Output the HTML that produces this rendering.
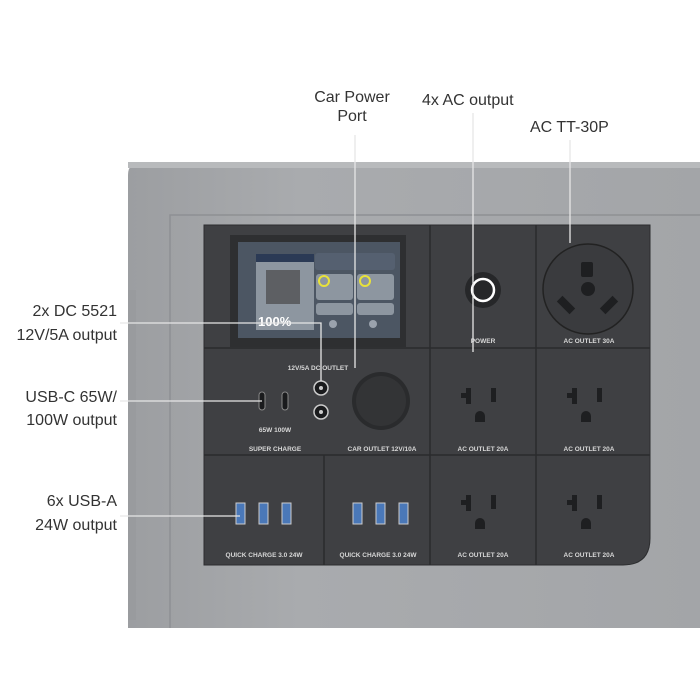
<!DOCTYPE html>
<html><head><meta charset="utf-8"><style>
html,body{margin:0;padding:0;background:#fff;width:700px;height:700px;overflow:hidden}
svg{display:block}
</style></head><body>
<svg width="700" height="700" viewBox="0 0 700 700" xmlns="http://www.w3.org/2000/svg" font-family="Liberation Sans, sans-serif">
<defs>
<linearGradient id="body" x1="0" y1="0" x2="1" y2="0">
<stop offset="0" stop-color="#9c9ea1"/><stop offset="0.3" stop-color="#a9abae"/><stop offset="1" stop-color="#a3a5a8"/>
</linearGradient>
</defs>
<rect width="700" height="700" fill="#fff"/>
<!-- body -->
<path d="M128 175 Q128 162 142 162 L700 162 L700 628 L128 628 Z" fill="url(#body)"/>
<rect x="128" y="162" width="572" height="6" fill="#b8babc"/>
<path d="M170 628 L170 215 L700 215" fill="none" stroke="#8e9093" stroke-width="1.5"/>
<rect x="128" y="290" width="8" height="330" fill="#999b9e"/>
<!-- panel -->
<path d="M204 225 L650 225 L650 538 Q650 565 623 565 L204 565 Z" fill="#3f4043" stroke="#2c2d2f" stroke-width="1"/>
<g stroke="#2a2b2d" stroke-width="1.5">
<line x1="204" y1="348" x2="650" y2="348"/>
<line x1="204" y1="455" x2="650" y2="455"/>
<line x1="430" y1="225" x2="430" y2="565"/>
<line x1="536" y1="225" x2="536" y2="565"/>
<line x1="324" y1="455" x2="324" y2="565"/>
</g>
<!-- display -->
<rect x="230" y="235" width="176" height="112" fill="#2e2f31"/>
<rect x="238" y="242" width="162" height="96" fill="#4c5663"/>
<rect x="256" y="254" width="58" height="76" fill="#8d96a0"/>
<rect x="256" y="254" width="58" height="8" fill="#2b3a55"/>
<rect x="266" y="270" width="34" height="34" fill="#5d5f63"/>
<text x="258" y="326" font-size="13" font-weight="bold" fill="#fff">100%</text>
<rect x="315" y="253" width="80" height="17" rx="3" fill="#556070"/>
<rect x="316" y="274" width="37" height="26" rx="3" fill="#8d96a0"/>
<rect x="357" y="274" width="37" height="26" rx="3" fill="#8d96a0"/>
<circle cx="324" cy="281" r="5" fill="none" stroke="#e8e23a" stroke-width="2"/>
<circle cx="365" cy="281" r="5" fill="none" stroke="#e8e23a" stroke-width="2"/>
<rect x="316" y="303" width="37" height="12" rx="3" fill="#8d96a0"/>
<rect x="357" y="303" width="37" height="12" rx="3" fill="#8d96a0"/>
<circle cx="333" cy="324" r="4" fill="#9aa2ad"/><circle cx="373" cy="324" r="4" fill="#9aa2ad"/>
<!-- power -->
<circle cx="483" cy="290" r="18" fill="#262729"/>
<circle cx="483" cy="290" r="11" fill="none" stroke="#fff" stroke-width="2.5"/>
<!-- TT-30 -->
<circle cx="588" cy="289" r="45" fill="#3a3b3e" stroke="#222" stroke-width="1.5"/>
<rect x="581" y="262" width="12" height="15" rx="2" fill="#1e1f21"/>
<circle cx="588" cy="289" r="7" fill="#1e1f21"/>
<rect x="562" y="296" width="8" height="18" fill="#1e1f21" transform="rotate(-45 566 305)"/>
<rect x="605" y="296" width="8" height="18" fill="#1e1f21" transform="rotate(45 609 305)"/>
<!-- AC 20A outlets -->
<g fill="#1e1f21">
<g id="o"><rect x="466" y="388" width="5" height="16"/><rect x="461" y="393" width="8" height="5"/><rect x="491" y="388" width="5" height="14"/><path d="M475 422 v-6 a5 5 0 0 1 10 0 v6 z"/></g>
<use href="#o" x="106"/><use href="#o" y="107"/><use href="#o" x="106" y="107"/>
</g>
<!-- USB-C -->
<rect x="259" y="392" width="6" height="18" rx="3" fill="#1a1b1d" stroke="#888" stroke-width="1"/>
<rect x="282" y="392" width="6" height="18" rx="3" fill="#1a1b1d" stroke="#888" stroke-width="1"/>
<!-- DC -->
<circle cx="321" cy="388" r="7" fill="#1a1b1d" stroke="#ccc" stroke-width="1.5"/><circle cx="321" cy="388" r="2" fill="#ccc"/>
<circle cx="321" cy="412" r="7" fill="#1a1b1d" stroke="#ccc" stroke-width="1.5"/><circle cx="321" cy="412" r="2" fill="#ccc"/>
<!-- car port -->
<circle cx="381" cy="401" r="29" fill="#2a2b2d"/>
<circle cx="381" cy="401" r="25" fill="#333436"/>
<!-- USB-A -->
<g fill="#4a78b8" stroke="#ccc" stroke-width="1">
<rect x="236" y="503" width="9" height="21"/><rect x="259" y="503" width="9" height="21"/><rect x="282" y="503" width="9" height="21"/>
<rect x="353" y="503" width="9" height="21"/><rect x="376" y="503" width="9" height="21"/><rect x="399" y="503" width="9" height="21"/>
</g>
<!-- panel labels -->
<g font-size="6.5" font-weight="bold" fill="#d8d8d8" text-anchor="middle">
<text x="483" y="343">POWER</text>
<text x="589" y="343">AC OUTLET 30A</text>
<text x="318" y="370">12V/5A DC OUTLET</text>
<text x="275" y="432">65W 100W</text>
<text x="275" y="451">SUPER CHARGE</text>
<text x="382" y="451">CAR OUTLET 12V/10A</text>
<text x="483" y="451">AC OUTLET 20A</text>
<text x="589" y="451">AC OUTLET 20A</text>
<text x="264" y="557">QUICK CHARGE 3.0  24W</text>
<text x="378" y="557">QUICK CHARGE 3.0  24W</text>
<text x="483" y="557">AC OUTLET 20A</text>
<text x="589" y="557">AC OUTLET 20A</text>
</g>
<!-- leader lines -->
<g fill="none" stroke="#e6e6e6" stroke-width="1.3">
<path d="M355 135 V368"/>
<path d="M473 113 V352"/>
<path d="M570 140 V243"/>
<path d="M120 323 H321 V381"/>
<path d="M120 401 H262"/>
<path d="M120 516 H240"/>
</g>
<!-- callout labels -->
<g font-size="16" fill="#333">
<text x="352" y="102" text-anchor="middle">Car Power</text>
<text x="352" y="121" text-anchor="middle">Port</text>
<text x="422" y="105">4x AC output</text>
<text x="530" y="132">AC TT-30P</text>
<g text-anchor="end">
<text x="117" y="316">2x DC 5521</text>
<text x="117" y="340">12V/5A output</text>
<text x="117" y="402">USB-C 65W/</text>
<text x="117" y="425">100W output</text>
<text x="117" y="506">6x USB-A</text>
<text x="117" y="530">24W output</text>
</g>
</g>
</svg>
</body></html>
